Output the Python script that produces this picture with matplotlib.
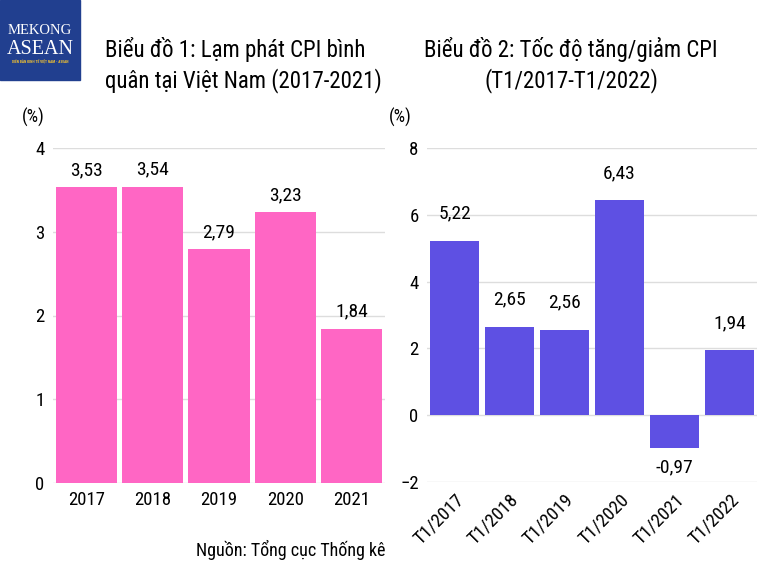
import matplotlib.pyplot as plt
from matplotlib.patches import Rectangle

plt.rcParams['font.family'] = ['Roboto Condensed', 'Liberation Sans Narrow', 'DejaVu Sans']

# du lieu
years = ['2017', '2018', '2019', '2020', '2021']
cpi_avg = [3.53, 3.54, 2.79, 3.23, 1.84]

months = ['T1/2017', 'T1/2018', 'T1/2019', 'T1/2020', 'T1/2021', 'T1/2022']
cpi_jan = [5.22, 2.65, 2.56, 6.43, -0.97, 1.94]

pink = '#ff66c4'
purple = '#5e50e3'
W, H = 765, 574


def fmt(v):
    return f'{v:.2f}'.replace('.', ',')


def style(ax):
    for s in ax.spines.values():
        s.set_visible(False)
    ax.grid(axis='y', color='#dddddd', lw=1)
    ax.set_axisbelow(True)
    ax.tick_params(length=0, labelsize=13.5, pad=6)


fig = plt.figure(figsize=(W / 100, H / 100), dpi=100)

# bieu do 1
ax1 = fig.add_axes([53 / W, 1 - 483 / H, 332 / W, 335 / H])
ax1.bar(range(len(years)), cpi_avg, width=0.92, color=pink)
ax1.set_ylim(0, 4)
ax1.set_yticks(range(0, 5))
ax1.set_xlim(-0.5, len(years) - 0.5)
ax1.set_xticks(range(len(years)), years)
style(ax1)
for i, v in enumerate(cpi_avg):
    ax1.annotate(fmt(v), (i, v), xytext=(0, 6), textcoords='offset points',
                 ha='center', va='bottom', fontsize=14)

# bieu do 2
ax2 = fig.add_axes([427 / W, 1 - 482 / H, 330 / W, 334 / H])
ax2.bar(range(len(months)), cpi_jan, width=0.9, color=purple)
ax2.set_ylim(-2, 8)
ax2.set_yticks(range(-2, 9, 2))
ax2.set_xlim(-0.5, len(months) - 0.5)
ax2.set_xticks(range(len(months)), months, rotation=45, ha='right',
               rotation_mode='anchor')
style(ax2)
for i, v in enumerate(cpi_jan):
    if v >= 0:
        ax2.annotate(fmt(v), (i, v), xytext=(0, 13), textcoords='offset points',
                     ha='center', va='bottom', fontsize=14)
    else:
        ax2.annotate(fmt(v), (i, v), xytext=(0, -8), textcoords='offset points',
                     ha='center', va='top', fontsize=14)

# tieu de
fig.text(105 / W, 1 - 49 / H, 'Biểu đồ 1: Lạm phát CPI bình', fontsize=16.5,
         va='center', ha='left')
fig.text(105 / W, 1 - 81 / H, 'quân tại Việt Nam (2017-2021)', fontsize=16.5,
         va='center', ha='left')
fig.text(571 / W, 1 - 49 / H, 'Biểu đồ 2: Tốc độ tăng/giảm CPI', fontsize=16.5,
         va='center', ha='center')
fig.text(571 / W, 1 - 81 / H, '(T1/2017-T1/2022)', fontsize=16.5,
         va='center', ha='center')

fig.text(22 / W, 1 - 117 / H, '(%)', fontsize=13, va='center', ha='left')
fig.text(389 / W, 1 - 117 / H, '(%)', fontsize=13, va='center', ha='left')

fig.text(385 / W, 1 - 550 / H, 'Nguồn: Tổng cục Thống kê', fontsize=13,
         va='center', ha='right')

# logo
fig.patches.append(Rectangle((0, 1 - 80 / H), 80 / W, 80 / H, color='#213f8f',
                             transform=fig.transFigure, zorder=0))
fig.text(40 / W, 1 - 31 / H, 'MEKONG', color='white', fontsize=10.5,
         ha='center', va='center', family='Liberation Serif')
fig.text(40 / W, 1 - 50 / H, 'ASEAN', color='white', fontsize=14.5,
         ha='center', va='center', family='Liberation Serif')
fig.text(40 / W, 1 - 62 / H, 'DIỄN ĐÀN KINH TẾ VIỆT NAM - ASEAN', color='#f2c230',
         fontsize=2.6, ha='center', va='center', weight='bold')

fig.savefig('out.png', dpi=100)
